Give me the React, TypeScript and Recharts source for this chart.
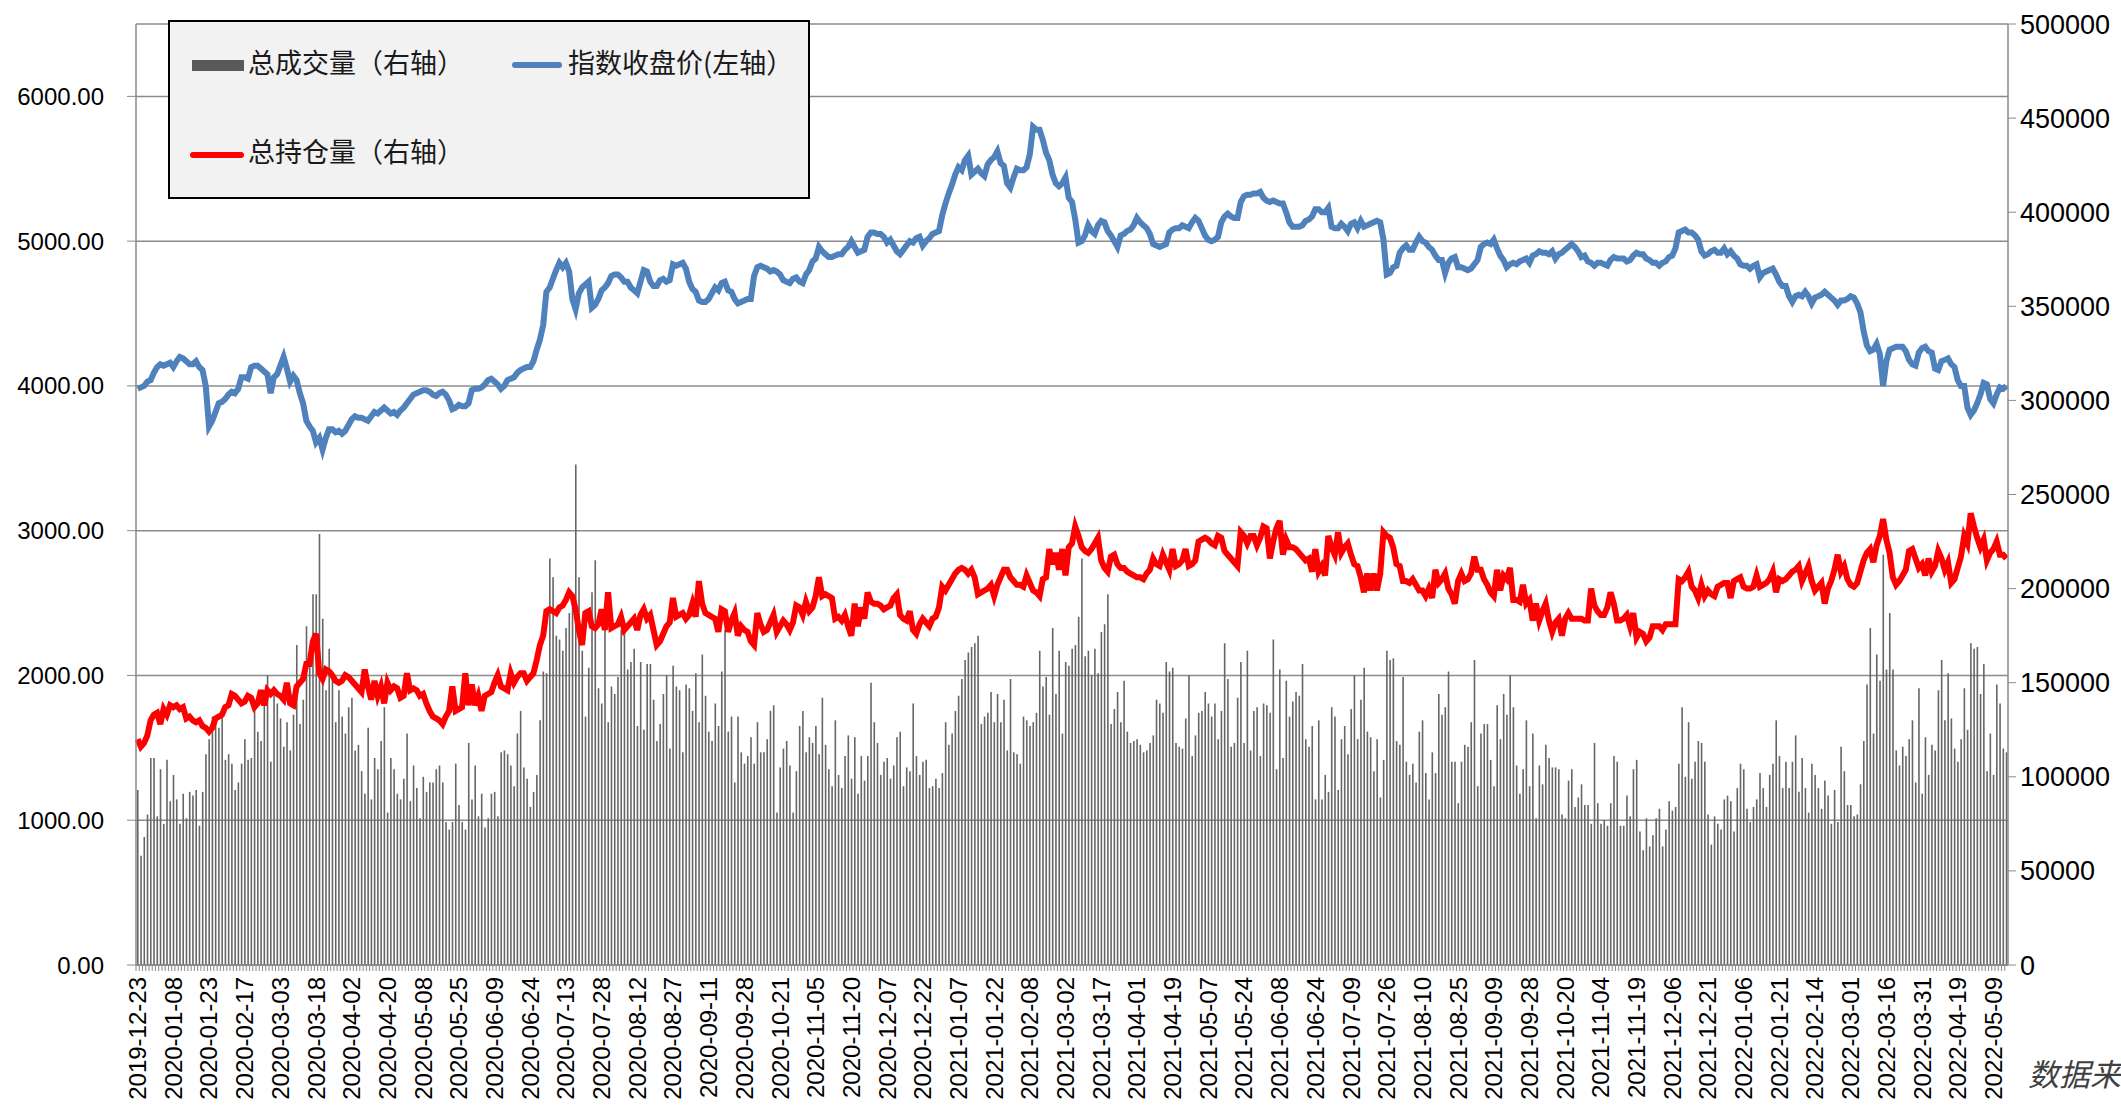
import { Bar, CartesianGrid, ComposedChart, Line, XAxis, YAxis } from "recharts";

// one label every 11 trading days
const tickLabels = [
  "2019-12-23", "2020-01-08", "2020-01-23", "2020-02-17", "2020-03-03", "2020-03-18", "2020-04-02",
  "2020-04-20", "2020-05-08", "2020-05-25", "2020-06-09", "2020-06-24", "2020-07-13", "2020-07-28",
  "2020-08-12", "2020-08-27", "2020-09-11", "2020-09-28", "2020-10-21", "2020-11-05", "2020-11-20",
  "2020-12-07", "2020-12-22", "2021-01-07", "2021-01-22", "2021-02-08", "2021-03-02", "2021-03-17",
  "2021-04-01", "2021-04-19", "2021-05-07", "2021-05-24", "2021-06-08", "2021-06-24", "2021-07-09",
  "2021-07-26", "2021-08-10", "2021-08-25", "2021-09-09", "2021-09-28", "2021-10-20", "2021-11-04",
  "2021-11-19", "2021-12-06", "2021-12-21", "2022-01-06", "2022-01-21", "2022-02-14", "2022-03-01",
  "2022-03-16", "2022-03-31", "2022-04-19", "2022-05-09",
];

// 指数收盘价 (left axis)
const price = [
  3980, 3990, 4000, 4030, 4040, 4090, 4130, 4150, 4140, 4150, 4160, 4130, 4170, 4200, 4190, 4170, 4150, 4150, 4170, 4130,
  4110, 4000, 3720, 3760, 3820, 3880, 3890, 3910, 3940, 3960, 3950, 3980, 4060, 4060, 4050, 4130, 4140, 4140, 4120, 4100,
  4080, 3950, 4060, 4080, 4140, 4200, 4120, 4030, 4070, 4040, 3950, 3880, 3760, 3720, 3690, 3610, 3640, 3560,
  3640, 3700, 3700, 3680, 3690, 3670, 3690, 3730, 3770, 3790, 3780, 3780, 3770, 3760, 3790, 3820, 3810, 3830, 3850, 3830,
  3810, 3820, 3800, 3830, 3850, 3880, 3910, 3940, 3950, 3960, 3970, 3970, 3960, 3940, 3930, 3950, 3960, 3940, 3900, 3840,
  3850, 3870, 3860, 3860, 3880, 3970, 3980, 3980, 3990, 4010, 4040, 4050, 4030, 4010, 3980, 4000, 4040, 4050,
  4060, 4090, 4110, 4120, 4130, 4130, 4170, 4250, 4320, 4420, 4650, 4680, 4740, 4800, 4850, 4820, 4850, 4790, 4600, 4530,
  4640, 4680, 4700, 4720, 4540, 4560, 4600, 4660, 4680, 4710, 4760, 4770, 4770, 4750, 4720, 4720, 4680, 4660, 4640, 4720,
  4800, 4790, 4720, 4690, 4690, 4730, 4740, 4720, 4730, 4840, 4830, 4840, 4850, 4810, 4720, 4670, 4650, 4590, 4580,
  4580, 4600, 4640, 4680, 4660, 4710, 4720, 4660, 4650, 4600, 4570, 4580, 4590, 4600, 4600, 4760, 4820, 4830, 4820, 4810,
  4790, 4800, 4790, 4770, 4730, 4720, 4710, 4740, 4750, 4720, 4710, 4770, 4800, 4860, 4880, 4960, 4930, 4910, 4890, 4890,
  4900, 4910, 4910, 4940, 4960, 5000, 4960, 4920, 4930, 4940, 5030, 5060, 5060, 5050, 5050, 5030, 4990,
  5010, 4970, 4930, 4910, 4940, 4970, 5000, 4990, 5020, 5030, 4970, 5000, 5020, 5050, 5060, 5070, 5180, 5260, 5330, 5390,
  5460, 5510, 5490, 5560, 5590, 5460, 5480, 5500, 5470, 5450, 5530, 5560, 5580, 5620, 5540, 5520, 5400, 5370, 5440, 5500,
  5490, 5490, 5510, 5600, 5790, 5770, 5770, 5700, 5610, 5560, 5460, 5400, 5380, 5400, 5440, 5300, 5270, 5150, 4990,
  5000, 5040, 5110, 5070, 5050, 5110, 5140, 5130, 5070, 5040, 5000, 4960, 5040, 5050, 5070, 5080, 5110, 5160, 5130, 5110,
  5090, 5050, 4980, 4970, 4960, 4970, 4980, 5060, 5080, 5090, 5090, 5110, 5100, 5090, 5130, 5160, 5140, 5090, 5040, 5010,
  5000, 5010, 5030, 5130, 5170, 5190, 5170, 5160, 5160, 5270, 5310, 5320, 5320, 5330, 5330, 5340, 5300, 5280, 5270, 5280,
  5270, 5260, 5260, 5200, 5130, 5100, 5100, 5100, 5110, 5140, 5150, 5170, 5220, 5220, 5200, 5200, 5230, 5100, 5090, 5090,
  5120, 5100, 5070, 5120, 5130, 5090, 5140, 5100, 5110, 5120, 5130, 5140, 5130, 5010, 4770, 4780, 4820, 4830, 4920, 4950,
  4970, 4940, 4940, 4990, 5030, 5000, 4990, 4960, 4940, 4900, 4870, 4870, 4780, 4850, 4880, 4890, 4820, 4820,
  4810, 4800, 4810, 4840, 4870, 4960, 4980, 4990, 4980, 5010, 4950, 4900, 4870, 4820, 4840, 4850, 4840, 4860, 4870, 4880,
  4850, 4900, 4910, 4930, 4920, 4920, 4910, 4930, 4880, 4910, 4920, 4940, 4960, 4980, 4960, 4930, 4890, 4900, 4860, 4850,
  4830, 4850, 4850, 4840, 4830, 4870, 4890, 4880, 4880, 4880, 4860, 4870, 4900, 4920, 4910, 4910, 4880, 4870, 4850,
  4850, 4830, 4850, 4860, 4890, 4900, 4950, 5060, 5070, 5080, 5060, 5060, 5040, 5010, 4930, 4900, 4910, 4930, 4940, 4920,
  4920, 4950, 4910, 4930, 4900, 4880, 4840, 4830, 4830, 4810, 4830, 4840, 4750, 4780, 4790, 4800, 4810, 4770, 4720, 4690,
  4690, 4620, 4580, 4620, 4630, 4620, 4650, 4620, 4570, 4610, 4620, 4630, 4650, 4630, 4610, 4590, 4560, 4590, 4590,
  4600, 4620, 4610, 4570, 4510, 4380, 4280, 4240, 4250, 4290, 4220, 4000, 4170, 4250, 4260, 4270, 4270, 4270, 4240, 4180,
  4150, 4140, 4230, 4260, 4270, 4240, 4230, 4120, 4110, 4170, 4180, 4190, 4150, 4130, 4040, 4000, 4000, 3850, 3800, 3830,
  3880, 3940, 4020, 4010, 3910, 3880, 3940, 3990, 3980, 4000,
];

// 总持仓量, thousands (right axis)
const openInterest = [
  120, 116, 118, 122, 130, 133, 134, 128, 136, 133, 138, 137, 138, 136, 137, 131, 132, 130, 129, 130,
  127, 126, 124, 126, 131, 132, 133, 137, 138, 144, 143, 141, 139, 140, 143, 142, 137, 139, 146, 138,
  146, 144, 146, 144, 143, 141, 150, 139, 138, 148, 150, 152, 160, 160, 172, 176, 155, 152,
  157, 156, 154, 151, 150, 151, 154, 153, 151, 149, 147, 145, 157, 148, 141, 151, 143, 148, 139, 150,
  146, 148, 147, 142, 143, 155, 146, 147, 146, 143, 144, 139, 135, 132, 131, 130, 128, 132, 135, 148,
  135, 136, 137, 155, 138, 149, 138, 143, 135, 143, 144, 145, 150, 154, 148, 147, 146, 155,
  150, 153, 155, 155, 151, 153, 155, 162, 170, 175, 188, 189, 188, 187, 190, 191, 194, 198, 196, 189,
  178, 170, 187, 188, 180, 179, 181, 189, 178, 198, 179, 180, 181, 185, 178, 180, 182, 184, 178, 186,
  189, 184, 186, 178, 170, 172, 176, 180, 182, 195, 185, 186, 187, 184, 186, 192, 185, 204, 192,
  187, 186, 185, 184, 177, 189, 188, 177, 183, 187, 175, 180, 178, 177, 172, 170, 187, 181, 177, 178,
  182, 186, 177, 180, 183, 181, 178, 182, 191, 190, 186, 193, 188, 190, 196, 206, 196, 197, 196, 195,
  184, 185, 183, 186, 180, 175, 192, 180, 190, 184, 198, 193, 192, 192, 191, 189, 190,
  191, 195, 197, 186, 184, 183, 188, 178, 176, 181, 184, 182, 180, 184, 185, 190, 201, 199, 202, 205,
  208, 210, 211, 210, 208, 210, 206, 197, 198, 199, 200, 202, 196, 202, 206, 210, 210, 206, 204, 202,
  202, 201, 207, 203, 199, 198, 196, 205, 206, 221, 213, 219, 210, 221, 207, 222, 224, 233, 228,
  222, 220, 219, 221, 224, 227, 215, 211, 209, 217, 218, 213, 211, 211, 209, 208, 207, 206, 206, 205,
  208, 210, 216, 213, 212, 218, 214, 210, 221, 212, 213, 215, 221, 212, 213, 215, 225, 226, 227, 226,
  224, 223, 228, 227, 220, 218, 216, 214, 212, 230, 228, 224, 228, 228, 223, 227, 233, 232, 216, 225,
  232, 236, 218, 226, 222, 222, 221, 219, 217, 215, 216, 209, 221, 209, 212, 207, 228, 222, 218, 230,
  219, 222, 224, 218, 213, 212, 206, 198, 208, 199, 208, 199, 208, 230, 228, 227, 222, 213, 212, 204,
  204, 203, 205, 202, 199, 199, 196, 200, 195, 210, 203, 205, 208, 200, 197, 192, 204, 208,
  204, 205, 208, 217, 210, 210, 205, 202, 198, 196, 210, 199, 207, 205, 211, 194, 194, 193, 202, 192,
  194, 183, 192, 183, 188, 192, 183, 177, 182, 184, 175, 184, 187, 184, 184, 184, 184, 183, 183, 200,
  191, 188, 186, 186, 190, 198, 192, 183, 183, 184, 186, 180, 187, 174, 177, 176, 172, 174, 180,
  180, 180, 178, 181, 181, 181, 181, 205, 204, 206, 209, 201, 199, 195, 202, 196, 199, 197, 196, 201,
  202, 203, 203, 195, 204, 205, 206, 201, 200, 200, 201, 207, 201, 202, 203, 205, 209, 198, 205, 204,
  205, 207, 209, 210, 212, 204, 208, 212, 204, 199, 201, 203, 192, 200, 204, 210, 218, 209, 212,
  205, 202, 201, 203, 209, 215, 219, 221, 214, 223, 228, 237, 226, 219, 206, 202, 204, 207, 210, 220,
  221, 216, 211, 213, 207, 216, 209, 212, 220, 216, 210, 214, 203, 205, 211, 217, 228, 224, 240, 233,
  227, 222, 226, 215, 219, 221, 225, 218, 218, 216,
];

// 总成交量, thousands (right axis)
const volume = [
  93, 58, 68, 80, 110, 110, 79, 104, 75, 109, 87, 101, 88, 75, 91, 78, 92, 90, 93, 74,
  92, 112, 120, 132, 132, 126, 136, 109, 112, 107, 93, 97, 107, 120, 109, 110, 137, 124, 119, 146,
  154, 108, 148, 139, 131, 116, 129, 114, 133, 170, 128, 141, 180, 159, 197, 197, 229, 184,
  146, 168, 156, 129, 146, 132, 123, 137, 142, 114, 117, 103, 91, 126, 88, 110, 104, 119, 137, 81,
  110, 104, 91, 88, 99, 123, 87, 106, 94, 78, 100, 92, 97, 97, 104, 106, 97, 76, 72, 76,
  107, 85, 76, 72, 118, 88, 106, 79, 91, 73, 78, 91, 92, 79, 113, 114, 112, 106,
  95, 123, 135, 105, 99, 84, 92, 101, 130, 156, 155, 216, 206, 175, 173, 167, 179, 187, 196, 266,
  206, 167, 132, 158, 198, 215, 147, 139, 178, 129, 148, 144, 153, 178, 177, 157, 161, 168, 127, 161,
  125, 160, 160, 141, 119, 128, 144, 154, 115, 159, 148, 146, 113, 149, 147, 135, 155, 129, 165,
  143, 124, 119, 139, 127, 156, 178, 124, 132, 97, 132, 113, 107, 111, 121, 107, 129, 113, 113, 120,
  135, 138, 81, 105, 115, 119, 106, 81, 103, 127, 135, 113, 121, 118, 127, 112, 142, 117, 104, 95,
  130, 101, 94, 111, 122, 99, 121, 91, 111, 98, 111, 150, 129, 118, 101, 108, 110,
  99, 106, 121, 124, 95, 105, 103, 139, 111, 101, 108, 109, 94, 95, 99, 94, 102, 129, 117, 123,
  135, 143, 152, 162, 166, 169, 171, 175, 128, 132, 134, 145, 129, 144, 129, 141, 114, 152, 113, 112,
  107, 132, 130, 127, 129, 134, 167, 148, 153, 133, 179, 144, 167, 123, 161, 159, 168, 170, 185,
  216, 164, 167, 154, 168, 155, 177, 181, 197, 128, 136, 145, 129, 151, 124, 118, 119, 120, 117, 113,
  114, 118, 122, 141, 139, 134, 161, 156, 158, 118, 116, 115, 131, 154, 111, 122, 134, 135, 145, 139,
  132, 139, 120, 135, 171, 152, 116, 118, 142, 161, 118, 167, 114, 135, 137, 111, 139, 138, 134, 173,
  104, 157, 110, 151, 132, 140, 145, 143, 160, 120, 116, 127, 88, 130, 88, 101, 92, 137, 132, 93,
  120, 127, 112, 136, 154, 120, 141, 158, 124, 121, 103, 120, 89, 109, 167, 162, 163, 119, 117, 153,
  108, 101, 107, 97, 124, 130, 102, 88, 113, 102, 144, 133, 137, 156, 108, 108, 86, 108,
  117, 116, 129, 162, 95, 123, 128, 128, 109, 95, 138, 120, 144, 133, 154, 137, 106, 91, 104, 130,
  95, 123, 78, 106, 96, 117, 110, 105, 105, 104, 80, 78, 98, 104, 84, 89, 96, 85, 85, 75,
  118, 86, 75, 77, 74, 86, 111, 108, 74, 74, 90, 79, 104, 109, 71, 61, 78, 63, 69,
  78, 83, 63, 72, 87, 82, 84, 107, 137, 100, 129, 99, 108, 119, 118, 108, 80, 64, 79, 75,
  72, 88, 90, 87, 71, 94, 107, 104, 83, 76, 84, 88, 102, 94, 84, 101, 107, 130, 111, 94,
  108, 94, 108, 122, 92, 110, 94, 81, 107, 101, 94, 83, 98, 90, 75, 93, 76, 116, 103,
  85, 85, 79, 80, 96, 119, 149, 179, 123, 165, 151, 218, 157, 187, 157, 114, 106, 116, 111, 120,
  130, 97, 147, 91, 121, 101, 117, 114, 146, 162, 130, 155, 131, 115, 108, 120, 147, 125, 171, 168,
  169, 144, 160, 103, 123, 101, 149, 139, 115, 113,
];

const leftTicks = [0, 1000, 2000, 3000, 4000, 5000, 6000];
const rightTicks = [0, 50000, 100000, 150000, 200000, 250000, 300000, 350000, 400000, 450000, 500000];

const rows = price.map((p, i) => ({ i, px: p, oi: openInterest[i] * 1000, vol: volume[i] * 1000 }));

const W = 2121;
const H = 1111;
const LEFT_W = 136;
const RIGHT_W = 113;
const BAND = (W - LEFT_W - RIGHT_W) / rows.length;

const axisGray = "#8a8a8a";

function DateTick(props: any) {
  const { x, y, payload } = props;
  const i = Number(payload.value);
  const label = i % 11 === 0 ? tickLabels[i / 11] : null;
  return (
    <g>
      <line x1={x - BAND / 2} x2={x - BAND / 2} y1={y} y2={y + 6} stroke={axisGray} strokeWidth={1} />
      {label && (
        <text
          transform={`translate(${x},${y + 12}) rotate(-90)`}
          textAnchor="end"
          dominantBaseline="central"
          fontSize={24}
          fill="#000"
        >
          {label}
        </text>
      )}
    </g>
  );
}

const legendText = { position: "absolute" as const, fontSize: 27, color: "#1a1a1a", lineHeight: "30px", whiteSpace: "nowrap" as const };

export default function App() {
  return (
    <div
      style={{
        position: "absolute",
        left: 0,
        top: 0,
        width: W,
        height: H,
        overflow: "hidden",
        background: "#fff",
        fontFamily: '"Liberation Sans", Arial, sans-serif',
      }}
    >
      <ComposedChart width={W} height={H} data={rows} margin={{ top: 24, right: 0, bottom: 0, left: 0 }}>
        <CartesianGrid yAxisId="left" vertical={false} stroke="#8c8c8c" strokeWidth={1.5} />
        <XAxis
          dataKey="i"
          height={146}
          interval={0}
          tickSize={0}
          tickMargin={0}
          tickLine={false}
          axisLine={{ stroke: axisGray, strokeWidth: 1.5 }}
          tick={<DateTick />}
        />
        <YAxis
          yAxisId="left"
          width={LEFT_W}
          domain={[0, 6500]}
          ticks={leftTicks}
          interval={0}
          tickSize={9}
          tickMargin={23}
          tickFormatter={(v: number) => v.toFixed(2)}
          tick={{ fill: "#000", fontSize: 24 }}
          axisLine={{ stroke: axisGray, strokeWidth: 1.5 }}
          tickLine={{ stroke: axisGray }}
        />
        <YAxis
          yAxisId="right"
          orientation="right"
          width={RIGHT_W}
          domain={[0, 500000]}
          ticks={rightTicks}
          interval={0}
          tickSize={8}
          tickMargin={4}
          tick={{ fill: "#000", fontSize: 27 }}
          axisLine={{ stroke: axisGray, strokeWidth: 1.5 }}
          tickLine={{ stroke: axisGray }}
        />
        <Bar yAxisId="right" dataKey="vol" fill="#666666" barSize={1.6} isAnimationActive={false} />
        <Line yAxisId="right" dataKey="oi" type="linear" stroke="#ff0000" strokeWidth={6} dot={false} isAnimationActive={false} />
        <Line yAxisId="left" dataKey="px" type="linear" stroke="#4f81bd" strokeWidth={6} dot={false} isAnimationActive={false} />
      </ComposedChart>

      <div
        style={{
          position: "absolute",
          left: 168,
          top: 20,
          width: 642,
          height: 179,
          boxSizing: "border-box",
          border: "2px solid #000",
          background: "#f2f2f2",
          fontFamily: '"Noto Sans CJK SC", sans-serif',
        }}
      >
        <div style={{ position: "absolute", left: 22, top: 38, width: 52, height: 11, background: "#595959" }} />
        <div style={{ ...legendText, left: 78, top: 25 }}>总成交量（右轴）</div>
        <div style={{ position: "absolute", left: 342, top: 40, width: 50, height: 6, borderRadius: 3, background: "#4f81bd" }} />
        <div style={{ ...legendText, left: 398, top: 25 }}>指数收盘价(左轴）</div>
        <div style={{ position: "absolute", left: 20, top: 130, width: 54, height: 6, borderRadius: 3, background: "#ff0000" }} />
        <div style={{ ...legendText, left: 78, top: 114 }}>总持仓量（右轴）</div>
      </div>

      <div
        style={{
          position: "absolute",
          left: 2028,
          top: 1050,
          fontSize: 31,
          fontStyle: "italic",
          color: "#404040",
          whiteSpace: "nowrap",
          fontFamily: '"Noto Sans CJK SC", sans-serif',
        }}
      >
        数据来源：Wind
      </div>
    </div>
  );
}
